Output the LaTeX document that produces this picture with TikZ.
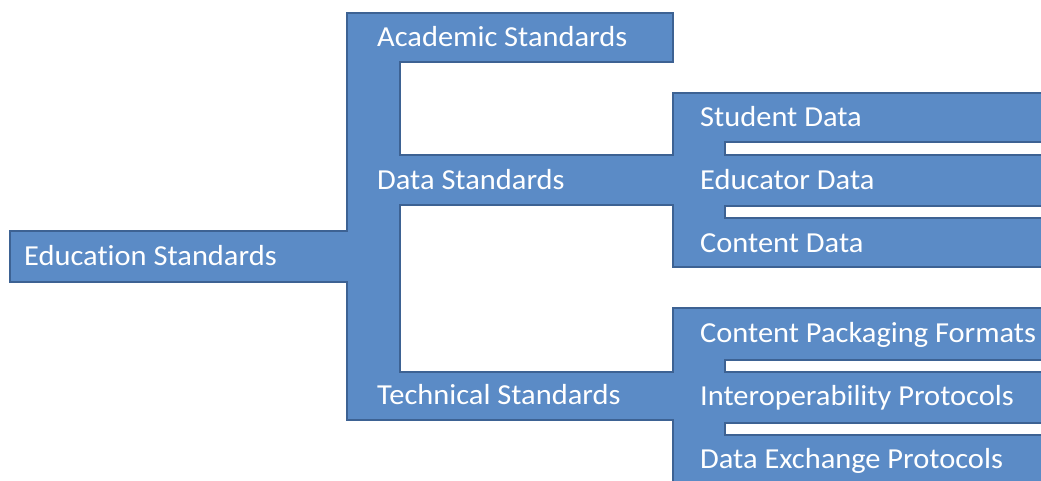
\documentclass[tikz,border=0pt]{standalone}
\usepackage{fontspec}
\setmainfont[FakeStretch=1.05,Ligatures=NoCommon]{Carlito}
\begin{document}
\begin{tikzpicture}[x=1pt,y=-1pt]
\definecolor{fillblue}{HTML}{5B8BC6}
\definecolor{edgeblue}{HTML}{3D6293}
\tikzset{
  lbl/.style={anchor=base west, inner sep=0pt, text=white, font=\fontsize{29}{34}\selectfont},
  treeshape/.style={fill=fillblue, draw=edgeblue, line width=2.8pt, line join=miter}
}
\useasboundingbox (0,0) rectangle (1041,480);
\clip (0,0) rectangle (1041,480);
\draw[treeshape]
  (347,13) -- (673,13) -- (673,62) -- (400,62) -- (400,155) -- (673,155) -- (673,93)
  -- (1050,93) -- (1050,142) -- (725,142) -- (725,155) -- (1050,155) -- (1050,206)
  -- (725,206) -- (725,218) -- (1050,218) -- (1050,267) -- (673,267) -- (673,205)
  -- (400,205) -- (400,372) -- (673,372) -- (673,308) -- (1050,308) -- (1050,360)
  -- (725,360) -- (725,372) -- (1050,372) -- (1050,423) -- (725,423) -- (725,435)
  -- (1050,435) -- (1050,495) -- (673,495) -- (673,420) -- (347,420) -- (347,282)
  -- (10,282) -- (10,231) -- (347,231) -- cycle;
\node[lbl] (edu) at (24,265) {Education Standards};
\node[lbl] (acad) at (377,46) {Academic Standards};
\node[lbl] (data) at (377,189) {Data Standards};
\node[lbl] (tech) at (377,404) {Technical Standards};
\node[lbl] (stud) at (700,126) {Student Data};
\node[lbl] (educ) at (700,189) {Educator Data};
\node[lbl] (cont) at (700,252) {Content Data};
\node[lbl] (cpf) at (700,342) {Content Packaging Formats};
\node[lbl] (iop) at (700,405) {Interoperability Protocols};
\node[lbl] (dex) at (700,468) {Data Exchange Protocols};
\end{tikzpicture}
\end{document}
